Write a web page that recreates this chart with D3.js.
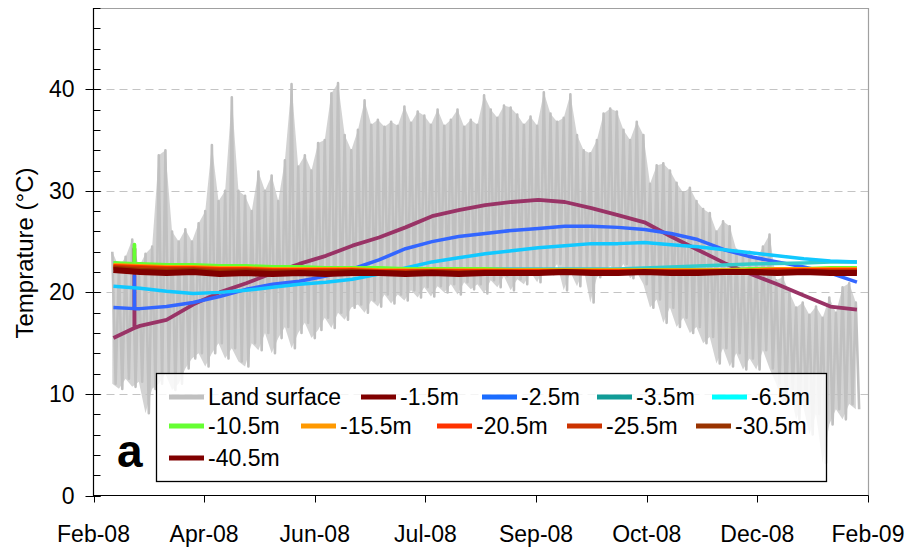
<!DOCTYPE html>
<html>
<head>
<meta charset="utf-8">
<script src="https://cdn.jsdelivr.net/npm/d3@7"></script>
<style>
  body { margin: 0; background: #fff; }
  svg { display: block; font-family: "Liberation Sans", Arial, sans-serif; }
</style>
</head>
<body>
<svg id="chart" width="909" height="549"></svg>
<script>
// ---- data ----

// land surface: daily max / min, one pair every 3 days from 1 Mar 2008
const landStart = new Date(2008, 2, 1, 12);
const landStepDays = 3;
const landHigh = [
  24, 22.5, 23.5, 25.2, 22.5, 23.8, 24.5, 33.5, 34, 26,
  25, 26.2, 25, 26.8, 28, 34.5, 29, 30, 39.2, 30,
  29.5, 28, 31.9, 30, 31.5, 29, 33, 40.5, 32.4, 33.5,
  32, 34.7, 35, 39.6, 40.6, 35.5, 34, 36, 38.9, 36.5,
  37, 36.3, 36.8, 36.4, 38.3, 36.7, 37.8, 37.4, 36.5, 38,
  36.4, 37, 38, 36.3, 37, 36.5, 39.4, 38, 37.2, 38.4,
  38.2, 37.5, 36.5, 37.3, 36.4, 39.7, 37.6, 36.8, 37.2, 39.5,
  35.5, 34, 33.7, 35, 37.6, 38.1, 37.8, 36, 35, 36.8,
  35.5, 30.7, 32.5, 32.7, 32, 30.8, 29.8, 30.3, 29, 28.2,
  27.8, 26, 27, 26.5, 24.2, 23.5, 24, 23.2, 24.5, 25.7,
  21.2, 21.5, 20, 18.5, 19, 17.8, 18.6, 17.5, 19.5, 18,
  20.5, 20.9, 19
];
const landLow = [
  11, 10.5, 11.5, 10.7, 11.2, 8.1, 10.5, 11, 12, 10.4,
  11, 12.5, 13.5, 14, 12.7, 14, 15, 13.5, 14.5, 13.2,
  12.7, 15, 14.3, 16, 14, 15.5, 16.6, 14.5, 16, 17,
  15.5, 16.3, 17.5, 16.5, 18, 17.3, 18.5, 18.8, 18, 19.2,
  18.6, 19.8, 18.9, 19.8, 19.2, 20.2, 19.5, 20.5, 19.6, 20.6,
  20, 20.8, 19.8, 21, 20.3, 20.8, 19.9, 21.2, 20.5, 21.6,
  20.2, 21.3, 20.8, 22, 21, 22.5, 21.8, 22.8, 20.2, 22,
  20.6, 22.3, 19, 21.5, 22, 22.6, 21.8, 22.8, 21.4, 22,
  20.8, 18.5, 19.3, 17, 18.5, 16.6, 17.5, 16, 16.6, 15,
  15.6, 13, 14.5, 12.7, 14, 12.4, 13.5, 12.4, 14.3, 12.5,
  11, 9, 10.5, 7.5, 9, 6, 8, 3.2, 7, 8.5,
  7.5, 9, 8.5
];

// borehole sensors: one reading every 12 days from 2 Mar 2008
const sensorStart = new Date(2008, 2, 2);
const sensorStepDays = 12;
const d1_5  = [15.5, 16.7, 17.3, 18.8, 20.0, 20.9, 21.9, 22.8, 23.6, 24.6, 25.4, 26.4, 27.5, 28.1, 28.6, 28.9, 29.1, 28.9, 28.3, 27.6, 26.9, 25.5, 24.2, 22.9, 21.8, 20.8, 19.7, 18.6, 18.3];
const d2_5  = [18.5, 18.4, 18.6, 19.0, 19.6, 20.3, 20.8, 21.1, 21.6, 22.3, 23.2, 24.3, 25.0, 25.5, 25.8, 26.1, 26.3, 26.5, 26.5, 26.4, 26.2, 25.8, 25.2, 24.2, 23.5, 23.0, 22.5, 21.9, 21.0];
const d3_5  = [22.9, 22.6, 22.5, 22.4, 22.4, 22.3, 22.3, 22.3, 22.3, 22.3, 22.3, 22.3, 22.3, 22.3, 22.3, 22.3, 22.3, 22.3, 22.3, 22.3, 22.4, 22.5, 22.6, 22.7, 22.8, 22.85, 22.9, 23.0, 23.0];
const d6_5  = [20.6, 20.4, 20.1, 19.9, 20.0, 20.2, 20.5, 20.8, 21.0, 21.3, 21.8, 22.4, 23.0, 23.4, 23.8, 24.1, 24.4, 24.6, 24.8, 24.8, 24.9, 24.7, 24.5, 24.2, 23.9, 23.6, 23.3, 23.1, 23.0];
const d10_5 = [22.9, 22.8, 22.7, 22.7, 22.6, 22.6, 22.5, 22.5, 22.4, 22.4, 22.4, 22.3, 22.3, 22.3, 22.3, 22.2, 22.2, 22.2, 22.2, 22.2, 22.2, 22.2, 22.2, 22.2, 22.3, 22.3, 22.3, 22.4, 22.4];
const d15_5 = [22.7, 22.6, 22.5, 22.5, 22.4, 22.4, 22.3, 22.3, 22.3, 22.3, 22.2, 22.2, 22.2, 22.2, 22.2, 22.2, 22.2, 22.2, 22.2, 22.2, 22.2, 22.2, 22.2, 22.2, 22.2, 22.3, 22.3, 22.3, 22.3];
const d20_5 = [22.6, 22.5, 22.4, 22.4, 22.3, 22.3, 22.2, 22.2, 22.2, 22.2, 22.1, 22.1, 22.1, 22.1, 22.1, 22.1, 22.1, 22.1, 22.1, 22.1, 22.1, 22.1, 22.1, 22.1, 22.1, 22.2, 22.2, 22.2, 22.2];
const d25_5 = [22.5, 22.4, 22.3, 22.3, 22.2, 22.2, 22.1, 22.1, 22.1, 22.1, 22.0, 22.0, 22.1, 22.0, 22.0, 22.0, 22.0, 22.1, 22.0, 22.0, 22.0, 22.0, 22.1, 22.0, 22.0, 22.1, 22.1, 22.1, 22.1];
const d30_5 = [22.4, 22.2, 22.1, 22.2, 22.0, 22.1, 22.0, 22.0, 22.0, 22.1, 22.0, 21.9, 22.0, 21.9, 22.0, 22.0, 21.9, 22.0, 22.0, 21.9, 22.0, 22.0, 22.0, 22.0, 22.1, 22.0, 22.1, 22.0, 22.0];
const d40_5 = [22.2, 22.0, 21.9, 22.0, 21.8, 21.9, 21.8, 21.9, 21.8, 21.9, 21.9, 21.8, 21.9, 21.8, 21.9, 21.9, 21.9, 22.0, 21.9, 21.9, 22.0, 21.9, 21.9, 22.0, 22.0, 21.9, 22.0, 21.9, 21.9];

// one bad reading on 11 Mar 2008 (hour before, bad hour, hour after)
const glitchTimes = [new Date(2008, 2, 11, 11), new Date(2008, 2, 11, 12), new Date(2008, 2, 11, 13)];
const glitch1_5  = [16.5, 24.3, 16.5];
const glitch2_5  = [18.4, 21.6, 18.4];
const glitch10_5 = [22.8, 24.7, 22.8];

const yTicksMajor = [0, 10, 20, 30, 40];

// ---- layout ----
const plot = { left: 93.5, right: 868, top: 8, bottom: 495.5 };

const xStart = new Date(2008, 1, 22);
const xEnd = d3.timeDay.offset(xStart, 350);
const x = d3.scaleTime().domain([xStart, xEnd]).range([plot.left, plot.right]);
const y = d3.scaleLinear().domain([0, 48]).range([plot.bottom, plot.top]);

const svg = d3.select("#chart");

// gridlines
svg.append("g")
  .selectAll("line")
  .data(yTicksMajor.filter(v => v > 0))
  .join("line")
  .attr("x1", plot.left).attr("x2", plot.right)
  .attr("y1", d => Math.round(y(d)) + 0.5).attr("y2", d => Math.round(y(d)) + 0.5)
  .attr("stroke", "#c4c4c4").attr("stroke-width", 1)
  .attr("stroke-dasharray", "8,5");

// frame top / right
svg.append("path")
  .attr("d", `M${plot.left},${plot.top + 0.5}H${plot.right + 0.5}V${plot.bottom}`)
  .attr("fill", "none").attr("stroke", "#a0a0a0").attr("stroke-width", 1.2);

// build series
function sensorSeries(vals, glitch) {
  let pts = vals.map((v, k) => ({ t: d3.timeDay.offset(sensorStart, k * sensorStepDays), v }));
  if (glitch) {
    glitch.forEach((v, j) => pts.push({ t: glitchTimes[j], v }));
    pts.sort((a, b) => a.t - b.t);
  }
  return pts;
}

const landPts = [];
landHigh.forEach((hi, i) => {
  const t = d3.timeDay.offset(landStart, i * landStepDays);
  landPts.push({ t, v: hi });
  landPts.push({ t: d3.timeHour.offset(t, 36), v: landLow[i] });
});

const series = [
  { name: "Land surface", pts: landPts, color: "#c0c0c0", width: 2.6 },
  { name: "-1.5m",  pts: sensorSeries(d1_5, glitch1_5),  color: "#993366", swatch: "#800000", width: 3.8 },
  { name: "-2.5m",  pts: sensorSeries(d2_5, glitch2_5),  color: "#3366ff", swatch: "#1a6cff", width: 3.5 },
  { name: "-3.5m",  pts: sensorSeries(d3_5),             color: "#33cccc", swatch: "#119c97", width: 3.5 },
  { name: "-6.5m",  pts: sensorSeries(d6_5),             color: "#11c8ff", swatch: "#00ffff", width: 3.5 },
  { name: "-10.5m", pts: sensorSeries(d10_5, glitch10_5), color: "#66ff33", width: 3.8 },
  { name: "-15.5m", pts: sensorSeries(d15_5),            color: "#ff9900", width: 3.8 },
  { name: "-20.5m", pts: sensorSeries(d20_5),            color: "#ff3300", width: 4 },
  { name: "-25.5m", pts: sensorSeries(d25_5),            color: "#cc3300", width: 4.2 },
  { name: "-30.5m", pts: sensorSeries(d30_5),            color: "#993300", width: 4.5 },
  { name: "-40.5m", pts: sensorSeries(d40_5),            color: "#800000", width: 6 }
];

const line = d3.line().x(d => x(d.t)).y(d => y(d.v));

// land surface envelope (hourly trace fills most of the daily range)
svg.append("path")
  .datum(landHigh.map((hi, i) => ({ t: d3.timeDay.offset(landStart, i * landStepDays), hi, lo: landLow[i] })))
  .attr("d", d3.area().x(d => x(d.t)).y0(d => y(d.lo)).y1(d => y(d.hi)))
  .attr("fill", "#c0c0c0").attr("fill-opacity", 0.7);

svg.append("g")
  .selectAll("path")
  .data(series)
  .join("path")
  .attr("d", d => line(d.pts))
  .attr("fill", "none")
  .attr("stroke", d => d.color)
  .attr("stroke-width", d => d.width)
  .attr("stroke-linejoin", "round");

// axes
const yAxisG = svg.append("g").attr("transform", `translate(${plot.left},0)`);
yAxisG.append("line")
  .attr("y1", plot.top).attr("y2", plot.bottom + 0.5)
  .attr("stroke", "#000").attr("stroke-width", 1.2);
yAxisG.selectAll("line.minor")
  .data(d3.range(0, 49, 2))
  .join("line").attr("class", "minor")
  .attr("x1", 0).attr("x2", 7)
  .attr("y1", d => Math.round(y(d)) + 0.5).attr("y2", d => Math.round(y(d)) + 0.5)
  .attr("stroke", "#000").attr("stroke-width", 1);
yAxisG.selectAll("line.major")
  .data(yTicksMajor)
  .join("line").attr("class", "major")
  .attr("x1", -8).attr("x2", 7)
  .attr("y1", d => Math.round(y(d)) + 0.5).attr("y2", d => Math.round(y(d)) + 0.5)
  .attr("stroke", "#000").attr("stroke-width", 1);
yAxisG.selectAll("text")
  .data(yTicksMajor)
  .join("text")
  .attr("x", -19).attr("y", d => y(d) + 8)
  .attr("text-anchor", "end")
  .attr("font-size", 23)
  .text(d => d);

const xTicks = d3.range(8).map(k => d3.timeDay.offset(xStart, k * 50));
const xAxisG = svg.append("g").attr("transform", `translate(0,${plot.bottom})`);
xAxisG.append("line")
  .attr("x1", plot.left).attr("x2", plot.right + 0.5)
  .attr("stroke", "#000").attr("stroke-width", 1.2);
xAxisG.selectAll("line.tick")
  .data(xTicks)
  .join("line").attr("class", "tick")
  .attr("x1", d => Math.round(x(d)) + 0.5).attr("x2", d => Math.round(x(d)) + 0.5)
  .attr("y1", 0).attr("y2", 7)
  .attr("stroke", "#000").attr("stroke-width", 1);
xAxisG.selectAll("text")
  .data(xTicks)
  .join("text")
  .attr("x", d => x(d)).attr("y", 46)
  .attr("text-anchor", "middle")
  .attr("font-size", 23)
  .text(d3.timeFormat("%b-%y"));

// y title
svg.append("text")
  .attr("transform", "translate(33,253) rotate(-90)")
  .attr("text-anchor", "middle")
  .attr("font-size", 24)
  .text("Temprature (°C)");

// panel letter
svg.append("text")
  .attr("x", 117).attr("y", 467)
  .attr("font-size", 46).attr("font-weight", "bold")
  .text("a");

// legend
const legendBox = { x: 156.5, y: 373.5, w: 670, h: 108 };
const legendRows = [397, 426, 458];
const legendCols = [
  [169, 361, 482, 597, 712],
  [169, 301, 437, 567, 696],
  [169]
];
const lg = svg.append("g");
lg.append("rect")
  .attr("x", legendBox.x).attr("y", legendBox.y)
  .attr("width", legendBox.w).attr("height", legendBox.h)
  .attr("fill", "#fff").attr("fill-opacity", 0.82)
  .attr("stroke", "#000").attr("stroke-width", 1.3);

let idx = 0;
legendCols.forEach((cols, r) => {
  cols.forEach(cx => {
    const s = series[idx++];
    const yy = legendRows[r];
    lg.append("line")
      .attr("x1", cx).attr("x2", cx + 35)
      .attr("y1", yy).attr("y2", yy)
      .attr("stroke", s.swatch || s.color).attr("stroke-width", 5);
    lg.append("text")
      .attr("x", cx + 39).attr("y", yy + 8)
      .attr("font-size", 23)
      .text(s.name);
  });
});
</script>
</body>
</html>
